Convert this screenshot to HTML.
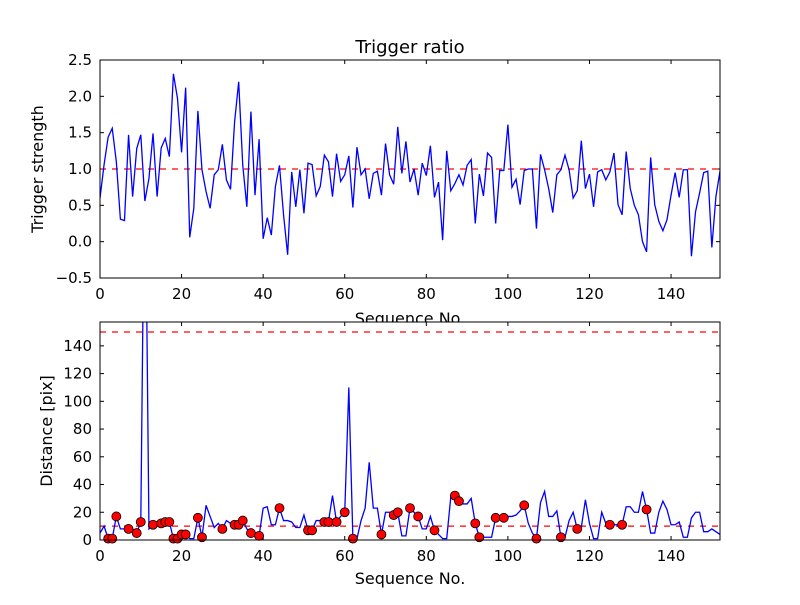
<!DOCTYPE html>
<html><head><meta charset="utf-8"><style>
body{margin:0;background:#fff}
svg text{font-family:"DejaVu Sans","Liberation Sans",sans-serif;fill:#000}
</style></head><body>
<svg id="chart" width="800" height="600" xmlns="http://www.w3.org/2000/svg"></svg>
<script>
const triggerStrength=[0.60,1.06,1.44,1.56,1.10,0.31,0.29,1.47,0.62,1.28,1.47,0.56,0.87,1.49,0.62,1.29,1.42,1.17,2.31,1.97,1.23,2.12,0.06,0.46,1.80,0.99,0.69,0.46,0.92,0.99,1.34,0.85,0.72,1.65,2.20,1.05,0.48,1.79,0.64,1.41,0.04,0.33,0.09,0.76,1.05,0.37,-0.18,0.96,0.48,0.99,0.39,1.08,1.06,0.63,0.76,1.19,1.10,0.62,1.21,0.83,0.92,1.18,0.47,1.30,0.92,1.0,0.59,0.94,0.97,0.64,1.35,0.92,0.79,1.58,0.94,1.38,0.82,1.0,0.64,1.08,0.91,1.32,0.61,0.82,0.02,1.25,0.70,0.80,0.92,0.78,1.05,1.13,0.25,0.93,0.63,1.22,1.16,0.25,0.98,0.98,1.61,0.75,0.86,0.51,0.98,1.0,1.0,0.18,1.20,0.99,0.73,0.40,0.92,0.99,1.19,0.99,0.60,0.70,1.39,0.73,0.93,0.48,0.96,0.99,0.85,0.96,1.22,0.51,0.37,1.24,0.73,0.50,0.37,0.0,-0.14,1.16,0.51,0.28,0.15,0.30,0.64,0.95,0.61,0.99,0.99,-0.20,0.41,0.67,0.95,0.97,-0.08,0.62,0.97,0.95];
const distance=[5,10,1,1,17,8,8,8,8,5,13,300,8,11,11,12,13,13,1,1,4,4,1,1,16,2,25,17,9,12,8,14,12,11,11,14,8,5,4,3,23,24,11,11,23,14,14,13,9,9,18,7,7,14,14,13,13,32,13,17,20,110,1,1,14,23,56,23,23,4,20,20,18,20,3,3,23,20,17,8,8,17,7,4,1,1,31,32,28,26,26,30,12,2,2,2,2,16,17,16,17,17,18,21,25,12,5,1,27,35,17,17,21,2,2,14,20,8,9,29,12,1,1,20,12,11,11,11,11,24,24,20,20,35,22,5,5,20,28,22,11,11,13,2,2,16,20,20,6,6,8,6,4];
const markerIdx=[2,3,4,7,9,10,13,15,16,17,18,19,20,21,24,25,30,33,34,35,37,39,44,51,52,55,56,58,60,62,69,72,73,76,78,82,87,88,92,93,97,99,104,107,113,117,125,128,134];
const xTicks=[0,20,40,60,80,100,120,140];
const yTicksTop=[-0.5,0.0,0.5,1.0,1.5,2.0,2.5];
const yTicksBot=[0,20,40,60,80,100,120,140];
const thrTop=[1.0];
const thrBot=[10,150];

const NS="http://www.w3.org/2000/svg";
const svg=document.getElementById('chart');
function mk(tag,attrs,parent){const e=document.createElementNS(NS,tag);for(const k in attrs)e.setAttribute(k,attrs[k]);(parent||svg).appendChild(e);return e;}
const L=100,R=720,XMAX=152;
const xs=v=>L+(v/XMAX)*(R-L);

function axes(top,bot,ymin,ymax,yt,fmt,name){
  const ys=v=>bot-(v-ymin)/(ymax-ymin)*(bot-top);
  const g=mk('g',{});
  
  
  const bg=mk('rect',{x:L,y:top,width:R-L,height:bot-top,fill:'#fff'},g);
  
  
  const cp=mk('clipPath',{id:name+'-clip'},g);
  mk('rect',{x:L,y:top,width:R-L,height:bot-top},cp);
  xTicks.forEach(t=>{
    const x=xs(t);
    mk('line',{x1:x,x2:x,y1:bot,y2:bot-4,stroke:'#000'},g);
    mk('line',{x1:x,x2:x,y1:top,y2:top+4,stroke:'#000'},g);
    const tx=mk('text',{x:x,y:bot+21,'text-anchor':'middle','font-size':'15'},g);
    tx.textContent=t;
    
    
  });
  yt.forEach(t=>{
    const y=ys(t);
    mk('line',{x1:L,x2:L+4,y1:y,y2:y,stroke:'#000'},g);
    mk('line',{x1:R,x2:R-4,y1:y,y2:y,stroke:'#000'},g);
    const tx=mk('text',{x:L-8,y:y+5,'text-anchor':'end','font-size':'15'},g);
    tx.textContent=fmt(t);
    
    
  });
  return {g,ys,clip:'url(#'+name+'-clip)'};
}

const A=axes(60,278,-0.5,2.5,yTicksTop,t=>(t<0?'\u2212':'')+Math.abs(t).toFixed(1),'top-axes');
const title=mk('text',{x:410,y:53,'text-anchor':'middle','font-size':'18'});
title.textContent='Trigger ratio';


const yl1=mk('text',{x:0,y:0,'text-anchor':'middle','font-size':'16',transform:'translate(43,169) rotate(-90)'});
yl1.textContent='Trigger strength';


thrTop.forEach(v=>{
  const l=mk('line',{x1:L,x2:R,y1:A.ys(v),y2:A.ys(v),stroke:'#f00','stroke-width':1.2,'stroke-dasharray':'6,6'},A.g);
  
  
});
const p1=mk('polyline',{points:triggerStrength.map((v,i)=>xs(i)+','+A.ys(v)).join(' '),fill:'none',stroke:'#00f','stroke-width':1.3,'clip-path':A.clip},A.g);


mk('rect',{x:L,y:60,width:R-L,height:218,fill:'none',stroke:'#000','stroke-width':1},A.g);
const xl1=mk('text',{x:410,y:324,'text-anchor':'middle','font-size':'16'});
xl1.textContent='Sequence No.';



const B=axes(322,540,0,157.2,yTicksBot,t=>String(t),'bottom-axes');
const yl2=mk('text',{x:0,y:0,'text-anchor':'middle','font-size':'16',transform:'translate(52,431) rotate(-90)'});
yl2.textContent='Distance [pix]';


thrBot.forEach(v=>{
  const l=mk('line',{x1:L,x2:R,y1:B.ys(v),y2:B.ys(v),stroke:'#f00','stroke-width':1.2,'stroke-dasharray':'6,6'},B.g);
  
  
});
const p2=mk('polyline',{points:distance.map((v,i)=>xs(i)+','+B.ys(v)).join(' '),fill:'none',stroke:'#00f','stroke-width':1.3,'clip-path':B.clip},B.g);


markerIdx.forEach(i=>{
  const c=mk('circle',{cx:xs(i),cy:B.ys(distance[i]),r:4.5,fill:'#f00',stroke:'#000','stroke-width':0.8},B.g);
  
  
});
mk('rect',{x:L,y:322,width:R-L,height:218,fill:'none',stroke:'#000','stroke-width':1},B.g);
const xl2=mk('text',{x:410,y:584,'text-anchor':'middle','font-size':'16'});
xl2.textContent='Sequence No.';


</script>
</body></html>
